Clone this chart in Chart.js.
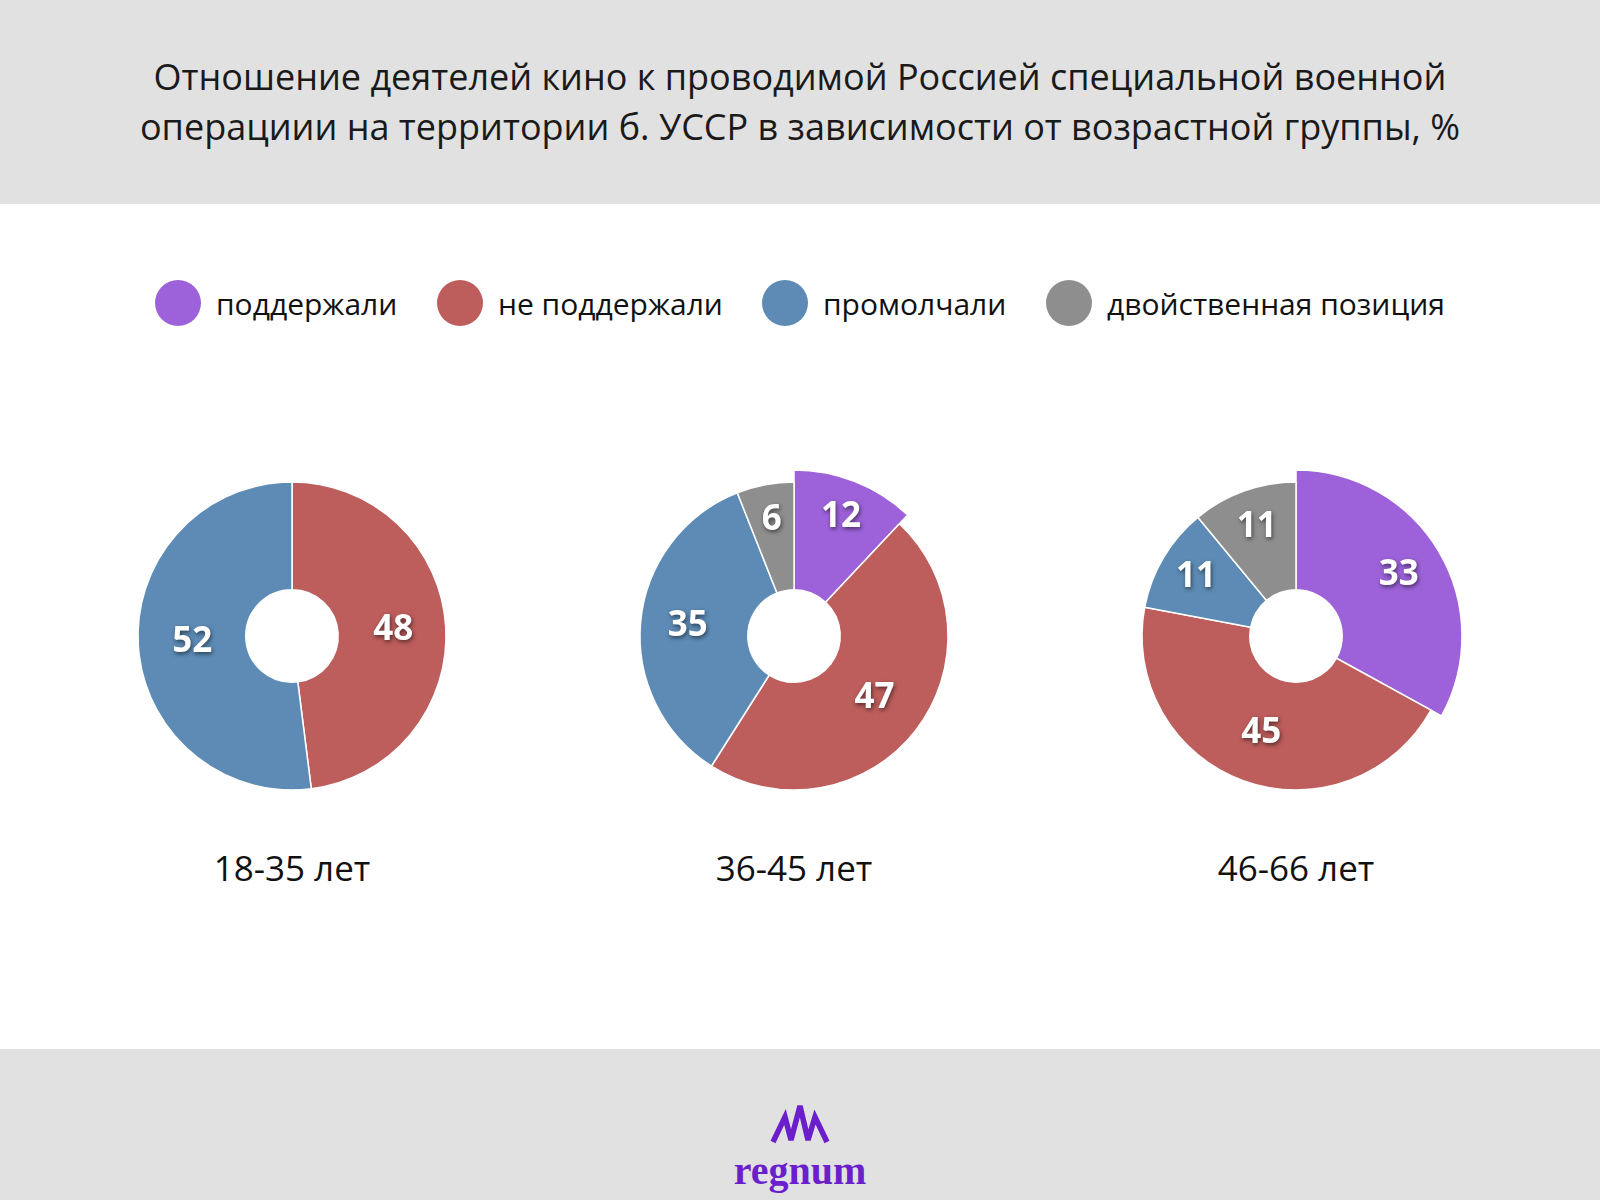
<!DOCTYPE html>
<html lang="ru">
<head>
<meta charset="utf-8">
<title>Отношение деятелей кино к СВО</title>
<script src="https://cdn.jsdelivr.net/npm/chart.js@4.4.1/dist/chart.umd.min.js"></script>
<style>
  html, body { margin: 0; padding: 0; }
  body {
    width: 1600px; height: 1200px; position: relative; overflow: hidden;
    background: #ffffff; font-family: "Open Sans", "Noto Sans", sans-serif; color: #111;
  }
  .header {
    position: absolute; left: 0; top: 0; width: 1600px; height: 204px; background: #e1e1e1;
  }
  .header h1 {
    margin: 0; position: absolute; left: 0; right: 0; top: 52px;
    text-align: center; font-weight: 400; font-size: 36px; line-height: 50px; color: #1a1a1a;
  }
  .legend { position: absolute; top: 280px; left: 0; width: 1600px; height: 46px; }
  .legend .item { position: absolute; top: 0; height: 46px; display: flex; align-items: center; }
  .legend .dot { width: 46px; height: 46px; border-radius: 50%; margin-right: 15px; }
  .legend .txt { font-size: 30px; color: #111; }
  canvas.pie { position: absolute; }
  .age { position: absolute; top: 844px; width: 300px; text-align: center; font-size: 35px; color: #111; }
  .footer {
    position: absolute; left: 0; top: 1049px; width: 1600px; height: 151px; background: #e1e1e1;
  }
  .logo-text {
    position: absolute; left: 0; width: 1600px; top: 1148px; line-height: 46px; text-align: center;
    font-family: "Liberation Serif", "DejaVu Serif", serif; font-weight: 700; font-size: 40px; color: #6b1fcc;
  }
</style>
</head>
<body>
<div class="header">
  <h1>Отношение деятелей кино к проводимой Россией специальной военной<br>операциии на территории б. УССР в зависимости от возрастной группы, %</h1>
</div>
<div class="legend" id="legend"></div>

<canvas class="pie" id="pie0" width="380" height="380"></canvas>
<canvas class="pie" id="pie1" width="380" height="380"></canvas>
<canvas class="pie" id="pie2" width="380" height="380"></canvas>

<div class="footer"></div>
<svg style="position:absolute;left:760px;top:1097px" width="80" height="52" viewBox="0 0 80 52">
  <polyline points="13,45 25,20 31,43 40,9 48,43 55,20 67,45" fill="none" stroke="#6b1fcc" stroke-width="5.5" stroke-linejoin="miter" stroke-miterlimit="3" stroke-linecap="butt"/>
</svg>
<div class="logo-text">regnum</div>

<script>
// categories and colours
const categories = ['поддержали', 'не поддержали', 'промолчали', 'двойственная позиция'];
const colors = ['#9d62d9', '#bd5d5c', '#5d8bb6', '#8e8e8e'];
const legendX = [178, 460, 785, 1069];

// age groups and values (%)
const groups = ['18-35 лет', '36-45 лет', '46-66 лет'];
const values18_35 = [0, 48, 52, 0];
const values36_45 = [12, 47, 35, 6];
const values46_66 = [33, 45, 11, 11];
const seriesValues = [values18_35, values36_45, values46_66];

const centersX = [292, 794, 1296];
const centerY = 636;
const canvasSize = 380;
const grow = 12;

// legend
const legendEl = document.getElementById('legend');
categories.forEach((c, i) => {
    const item = document.createElement('div');
    item.className = 'item';
    item.style.left = (legendX[i] - 23) + 'px';
    item.innerHTML = '<div class="dot" style="background:' + colors[i] + '"></div><div class="txt">' + c + '</div>';
    legendEl.appendChild(item);
});

// enlarge the first ("поддержали") slice
const growFirst = {
    id: 'growFirst',
    afterDatasetsUpdate(chart) {
        const arc = chart.getDatasetMeta(0).data[0];
        if (arc) arc.outerRadius += grow;
    }
};

// white shadowed value labels inside slices
const sliceLabels = {
    id: 'sliceLabels',
    afterDatasetsDraw(chart) {
        const ctx = chart.ctx;
        const meta = chart.getDatasetMeta(0);
        const data = chart.data.datasets[0].data;
        const total = data.reduce((s, v) => s + v, 0);
        ctx.save();
        ctx.font = 'bold 35px "Open Sans", "Noto Sans", sans-serif';
        ctx.textAlign = 'center';
        ctx.textBaseline = 'middle';
        ctx.fillStyle = '#ffffff';
        ctx.shadowColor = 'rgba(0,0,0,0.55)';
        ctx.shadowBlur = 4;
        ctx.shadowOffsetX = 1;
        ctx.shadowOffsetY = 2;
        meta.data.forEach((arc, i) => {
            if (!data[i]) return;
            const p = arc.getProps(['x', 'y', 'startAngle', 'endAngle', 'innerRadius', 'outerRadius'], true);
            const extra = i === 0 ? grow : 0;
            const ring = p.outerRadius - extra - p.innerRadius;
            const f = data[i] / total;
            const a = (p.startAngle + p.endAngle) / 2;
            const r = p.innerRadius + ring * (0.69 - 0.37 * f) + extra;
            ctx.fillText(String(data[i]), p.x + Math.cos(a) * r, p.y + Math.sin(a) * r);
        });
        ctx.restore();
    }
};

seriesValues.forEach((vals, k) => {
    const canvas = document.getElementById('pie' + k);
    canvas.style.left = (centersX[k] - canvasSize / 2) + 'px';
    canvas.style.top = (centerY - canvasSize / 2) + 'px';

    new Chart(canvas.getContext('2d'), {
        type: 'doughnut',
        data: {
            labels: categories,
            datasets: [{
                data: vals,
                backgroundColor: colors,
                borderColor: '#ffffff',
                borderWidth: 1.5
            }]
        },
        options: {
            responsive: false,
            animation: false,
            radius: 154,
            cutout: '30%',
            layout: { padding: 0 },
            plugins: {
                legend: { display: false },
                tooltip: { enabled: false }
            }
        },
        plugins: [growFirst, sliceLabels]
    });

    const age = document.createElement('div');
    age.className = 'age';
    age.style.left = (centersX[k] - 150) + 'px';
    age.textContent = groups[k];
    document.body.appendChild(age);
});
</script>
</body>
</html>
